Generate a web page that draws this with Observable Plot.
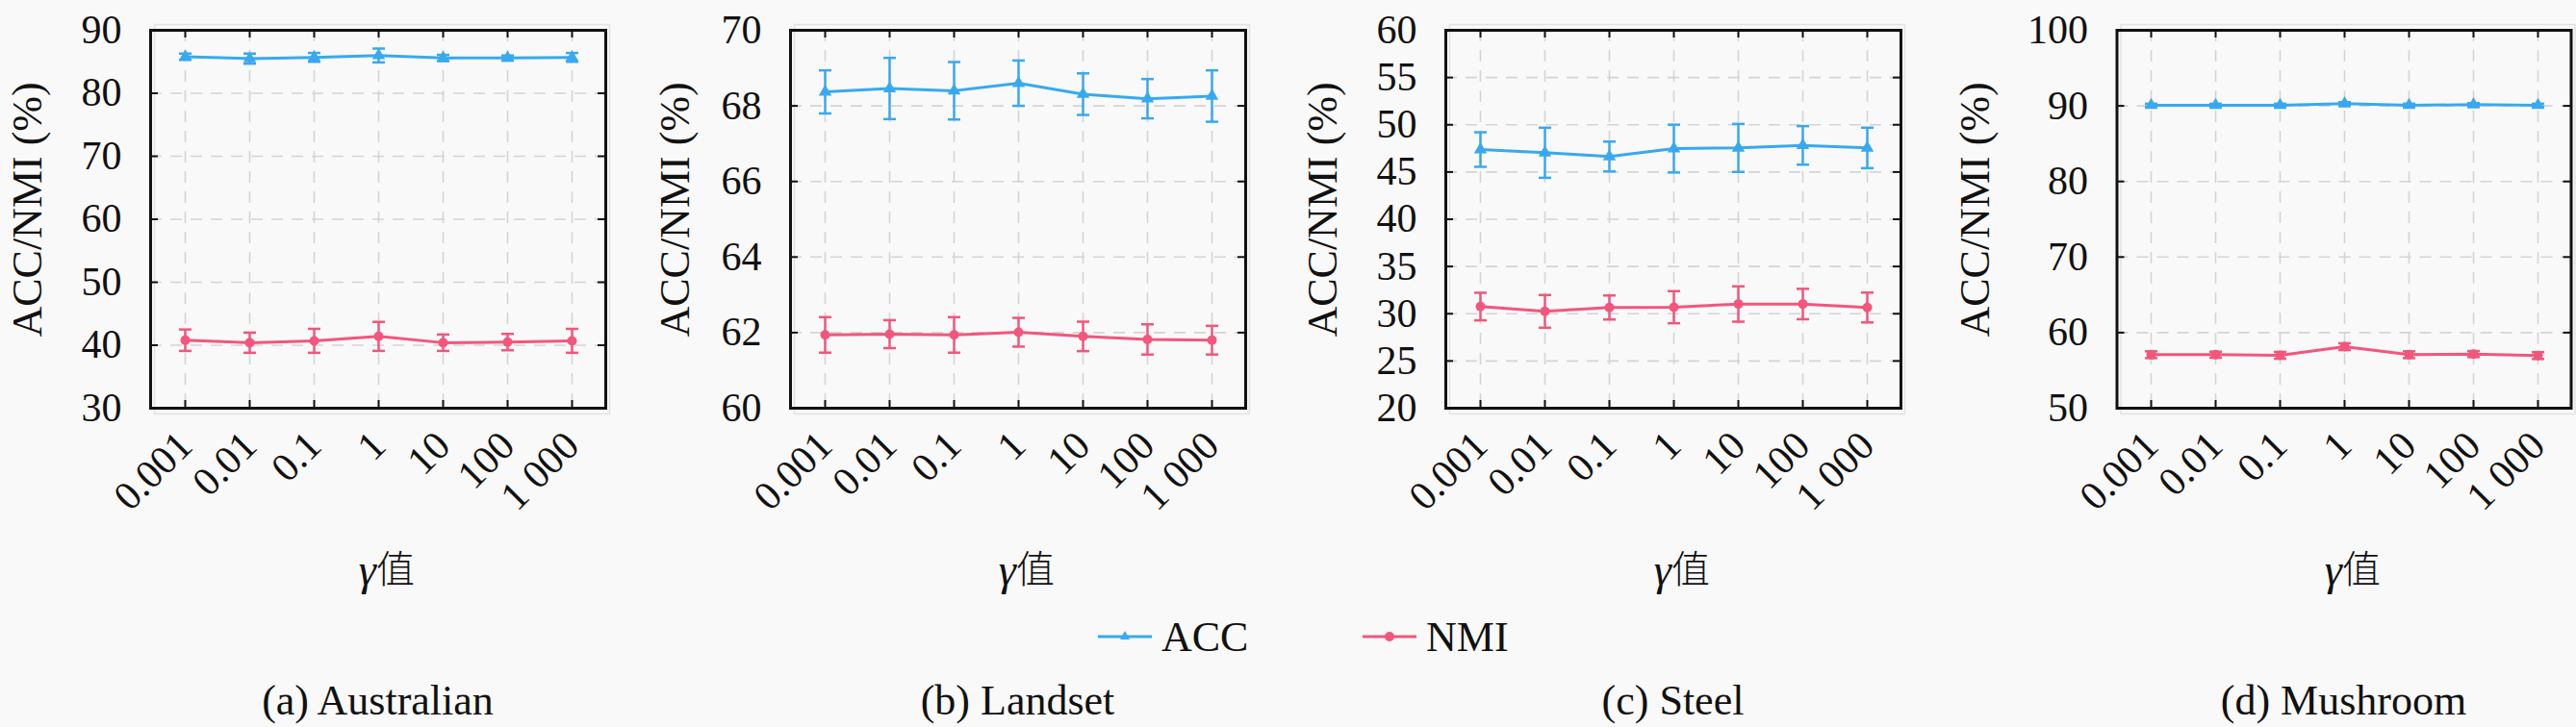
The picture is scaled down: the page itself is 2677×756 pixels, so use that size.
<!DOCTYPE html>
<html>
<head>
<meta charset="utf-8">
<script src="https://cdn.jsdelivr.net/npm/d3@7"></script>
<script src="https://cdn.jsdelivr.net/npm/@observablehq/plot@0.6"></script>
<style>
  html, body { margin: 0; padding: 0; background: #f9f9f9; }
  #root { position: relative; width: 2677px; height: 756px; background: #f9f9f9; overflow: hidden;
          font-family: "Liberation Serif", "DejaVu Serif", serif; color: #111; }
  .panel { position: absolute; top: 0; }
  .panel svg, .panel svg g, .panel svg text { font-family: "Liberation Serif", "DejaVu Serif", serif !important; }
  .panel svg text.cjk, .panel svg g.cjk text { font-family: "Noto Sans CJK SC", sans-serif !important; }
  .caption { position: absolute; top: 704px; height: 50px; line-height: 50px; font-size: 44px;
             text-align: center; white-space: nowrap; transform: translateX(-50%); }
  .legend-item { position: absolute; top: 637px; height: 50px; display: flex; align-items: center;
                 font-size: 44px; white-space: nowrap; }
  .legend-item svg { margin-right: 10px; }
</style>
</head>
<body>
<div id="root"></div>
<script>
// ---------------- data ----------------
const gammaLabels = ["0.001", "0.01", "0.1", "1", "10", "100", "1 000"];
const seriesNames = ["ACC", "NMI"];
const panelTitles = ["(a) Australian", "(b) Landset", "(c) Steel", "(d) Mushroom"];
const yLabelText = "ACC/NMI (%)";

const australianAcc    = [85.8, 85.5, 85.7, 86.0, 85.6, 85.6, 85.7];
const australianAccErr = [0.5, 0.8, 0.7, 1.1, 0.5, 0.4, 0.7];
const australianNmi    = [40.8, 40.4, 40.7, 41.4, 40.4, 40.5, 40.7];
const australianNmiErr = [1.7, 1.6, 1.9, 2.3, 1.3, 1.3, 1.9];
const australianTicks  = [30, 40, 50, 60, 70, 80, 90];

const landsetAcc    = [68.37, 68.46, 68.40, 68.60, 68.31, 68.19, 68.26];
const landsetAccErr = [0.57, 0.81, 0.76, 0.60, 0.55, 0.52, 0.68];
const landsetNmi    = [61.94, 61.96, 61.94, 62.01, 61.90, 61.82, 61.80];
const landsetNmiErr = [0.47, 0.37, 0.47, 0.38, 0.39, 0.40, 0.38];
const landsetTicks  = [60, 62, 64, 66, 68, 70];

const steelAcc    = [47.38, 47.04, 46.64, 47.48, 47.55, 47.82, 47.55];
const steelAccErr = [1.83, 2.65, 1.58, 2.53, 2.54, 2.04, 2.14];
const steelNmi    = [30.76, 30.25, 30.66, 30.69, 31.03, 31.03, 30.66];
const steelNmiErr = [1.46, 1.73, 1.27, 1.70, 1.87, 1.61, 1.58];
const steelTicks  = [20, 25, 30, 35, 40, 45, 50, 55, 60];

const mushroomAcc    = [90.08, 90.08, 90.08, 90.29, 90.08, 90.16, 90.08];
const mushroomAccErr = [0.2, 0.2, 0.2, 0.2, 0.2, 0.2, 0.2];
const mushroomNmi    = [57.08, 57.08, 57.00, 58.14, 57.08, 57.16, 56.96];
const mushroomNmiErr = [0.45, 0.40, 0.45, 0.45, 0.45, 0.40, 0.45];
const mushroomTicks  = [50, 60, 70, 80, 90, 100];

const panelsData = [
  {acc: australianAcc, accErr: australianAccErr, nmi: australianNmi, nmiErr: australianNmiErr, ticks: australianTicks},
  {acc: landsetAcc, accErr: landsetAccErr, nmi: landsetNmi, nmiErr: landsetNmiErr, ticks: landsetTicks},
  {acc: steelAcc, accErr: steelAccErr, nmi: steelNmi, nmiErr: steelNmiErr, ticks: steelTicks},
  {acc: mushroomAcc, accErr: mushroomAccErr, nmi: mushroomNmi, nmiErr: mushroomNmiErr, ticks: mushroomTicks}
];

// ---------------- layout & style ----------------
const FONT = '"Liberation Serif", "DejaVu Serif", serif';
const CJK = '"Noto Sans CJK SC", sans-serif';
const BLUE = "#38a9ef";
const RED = "#f2567c";
const GRID = "#d4d4d4";
const H = 640, MT = 31, MB = 216;
const layouts = [
  {left: 0,    width: 660, ml: 156,   mr: 31,  yLabelDx: 128},
  {left: 660,  width: 680, ml: 161,   mr: 46,  yLabelDx: 120},
  {left: 1340, width: 670, ml: 162,   mr: 35,  yLabelDx: 128},
  {left: 2010, width: 667, ml: 189.5, mr: 5.5, yLabelDx: 147}
];

const capSymbol = {
  draw(ctx, size) {
    const r = Math.sqrt(size / Math.PI);
    ctx.moveTo(-r, 0);
    ctx.lineTo(r, 0);
  }
};

const root = document.getElementById("root");

function makePanel(p, lay) {
  const rows = [];
  gammaLabels.forEach((g, i) => {
    rows.push({g, series: "ACC", v: p.acc[i], e: p.accErr[i]});
    rows.push({g, series: "NMI", v: p.nmi[i], e: p.nmiErr[i]});
  });
  const plotW = lay.width - lay.ml - lay.mr;
  const plotH = H - MT - MB;
  const domain = [p.ticks[0], p.ticks[p.ticks.length - 1]];
  return Plot.plot({
    width: lay.width, height: H,
    marginTop: MT, marginBottom: MB, marginLeft: lay.ml, marginRight: lay.mr,
    style: {background: "transparent", fontFamily: FONT, overflow: "visible", color: "#111"},
    x: {type: "point", domain: gammaLabels, padding: 0.5},
    y: {domain, nice: false},
    color: {domain: seriesNames, range: [BLUE, RED]},
    symbol: {domain: seriesNames, range: ["triangle", "circle"]},
    marks: [
      // faint outer outline around the frame
      Plot.frame({stroke: "#e2e2e2", strokeWidth: 1.5, insetTop: -6, insetRight: -4, insetBottom: -6, insetLeft: 4}),
      Plot.gridX(gammaLabels, {x: d => d, stroke: GRID, strokeOpacity: 1, strokeWidth: 1.6, strokeDasharray: "12,9"}),
      Plot.gridY(p.ticks.slice(1, -1), {y: d => d, stroke: GRID, strokeOpacity: 1, strokeWidth: 1.6, strokeDasharray: "12,9"}),
      // inward ticks on all four sides
      Plot.tickX(gammaLabels, {x: d => d, insetTop: plotH - 8, stroke: "#111", strokeWidth: 2}),
      Plot.tickX(gammaLabels, {x: d => d, insetBottom: plotH - 8, stroke: "#111", strokeWidth: 2}),
      Plot.tickY(p.ticks, {y: d => d, insetRight: plotW - 8, stroke: "#111", strokeWidth: 2}),
      Plot.tickY(p.ticks, {y: d => d, insetLeft: plotW - 8, stroke: "#111", strokeWidth: 2}),
      Plot.frame({stroke: "#111", strokeWidth: 3}),
      // error bars
      Plot.ruleX(rows, {x: "g", y1: d => d.v - d.e, y2: d => d.v + d.e, stroke: "series", strokeWidth: 2.5}),
      Plot.dot(rows, {x: "g", y: d => d.v - d.e, symbol: capSymbol, r: 6.5, fill: "none", stroke: "series", strokeWidth: 2.5}),
      Plot.dot(rows, {x: "g", y: d => d.v + d.e, symbol: capSymbol, r: 6.5, fill: "none", stroke: "series", strokeWidth: 2.5}),
      // lines and markers
      Plot.line(rows, {x: "g", y: "v", z: "series", stroke: "series", strokeWidth: 3}),
      Plot.dot(rows, {x: "g", y: "v", symbol: "series", fill: "series", stroke: "none", r: 5}),
      // axes
      Plot.axisY(p.ticks, {tickSize: 0, tickPadding: 30, fontSize: 42, fontFamily: FONT, label: null}),
      Plot.axisX({tickRotate: -45, tickSize: 0, tickPadding: 32, fontSize: 42, fontFamily: FONT, label: null}),
      Plot.text([yLabelText], {text: d => d, frameAnchor: "left", textAnchor: "middle", lineAnchor: "middle",
                               rotate: -90, dx: -lay.yLabelDx, dy: -10, fontSize: 44, fontFamily: FONT}),
      Plot.text(["γ"], {text: d => d, frameAnchor: "bottom", lineAnchor: "middle", dy: 169, dx: -2,
                        textAnchor: "end", fontStyle: "italic", fontSize: 46, fontFamily: FONT}),
      Plot.text(["值"], {text: d => d, frameAnchor: "bottom", lineAnchor: "middle", dy: 169, dx: -2,
                        textAnchor: "start", fontFamily: CJK, fontWeight: 300, fontSize: 40, className: "cjk"})
    ]
  });
}

panelsData.forEach((p, i) => {
  const lay = layouts[i];
  const wrap = document.createElement("div");
  wrap.className = "panel";
  wrap.style.left = lay.left + "px";
  const svg = makePanel(p, lay);
  // keep the CJK glyph in its CJK font
  svg.querySelectorAll("text").forEach(t => { if (t.textContent === "值") t.classList.add("cjk"); });
  wrap.appendChild(svg);
  root.appendChild(wrap);

  const cap = document.createElement("div");
  cap.className = "caption";
  cap.style.left = (lay.left + lay.ml + (lay.width - lay.ml - lay.mr) / 2) + "px";
  cap.textContent = panelTitles[i];
  root.appendChild(cap);
});

// legend
const legendColors = [BLUE, RED];
const legendLefts = [1141, 1416];
seriesNames.forEach((name, i) => {
  const item = document.createElement("div");
  item.className = "legend-item";
  item.style.left = legendLefts[i] + "px";
  const c = legendColors[i];
  const marker = i === 0
    ? `<path d="M28,5 L33,14 L23,14 Z" fill="${c}"/>`
    : `<circle cx="28" cy="11" r="5" fill="${c}"/>`;
  item.innerHTML = `<svg width="56" height="22" viewBox="0 0 56 22"><line x1="0" y1="11" x2="56" y2="11" stroke="${c}" stroke-width="3"/>${marker}</svg><span>${name}</span>`;
  root.appendChild(item);
});
</script>
</body>
</html>
